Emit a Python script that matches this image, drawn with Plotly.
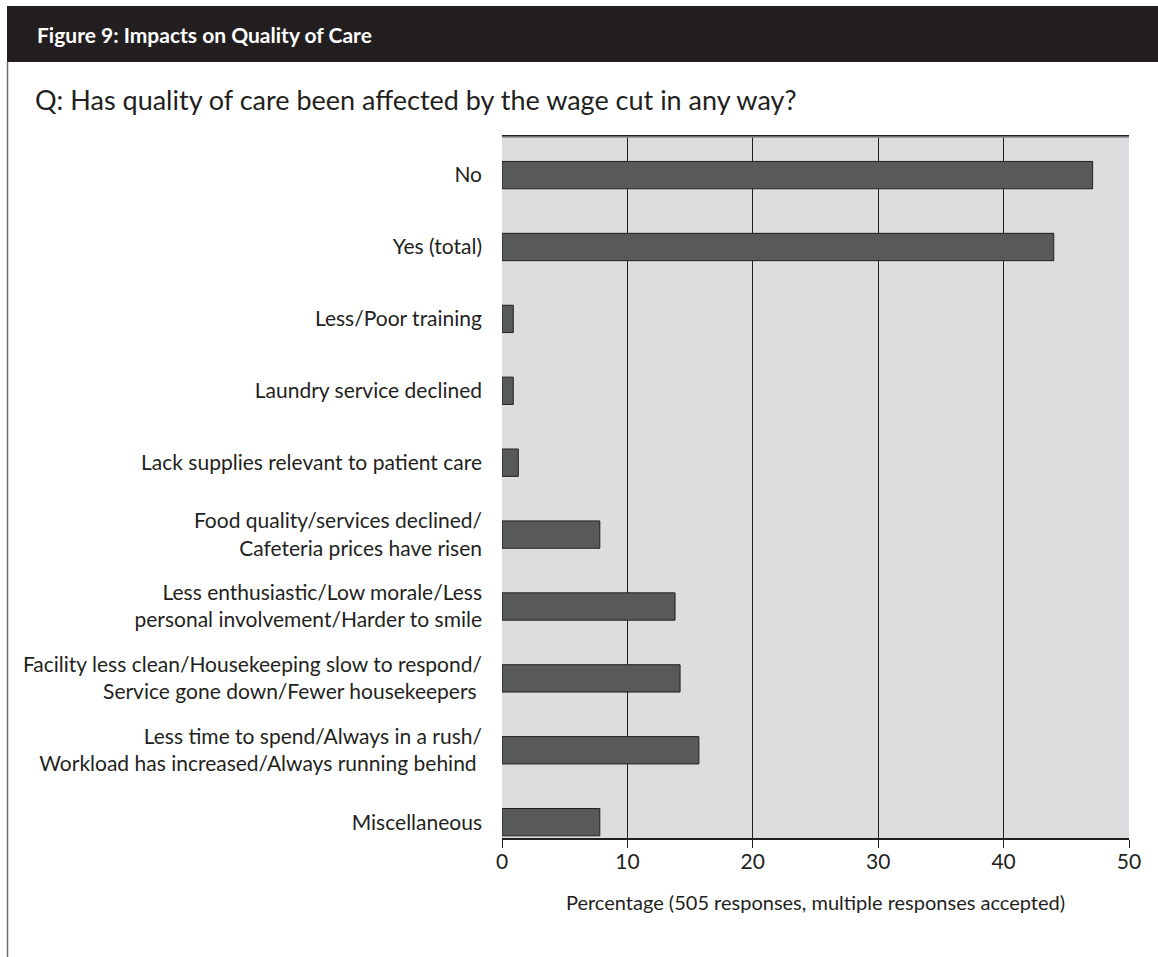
import plotly.graph_objects as go

categories = [
    "No",
    "Yes (total)",
    "Less/Poor training",
    "Laundry service declined",
    "Lack supplies relevant to patient care",
    "Food quality/services declined/<br>Cafeteria prices have risen",
    "Less enthusiastic/Low morale/Less<br>personal involvement/Harder to smile",
    "Facility less clean/Housekeeping slow to respond/<br>Service gone down/Fewer housekeepers\u00a0",
    "Less time to spend/Always in a rush/<br>Workload has increased/Always running behind\u00a0",
    "Miscellaneous",
]
values = [47.1, 44.0, 0.9, 0.9, 1.3, 7.8, 13.8, 14.2, 15.7, 7.8]
x_ticks = [0, 10, 20, 30, 40, 50]

W, H = 1158, 957
L, R, T, B = 502, 29, 137, 119
pw = W - L - R
ph = H - T - B

def px(x):
    return (x - L) / pw

def py(y):
    return 1 - (y - T) / ph

FONT = "Lato"
DARK = "#231f20"

fig = go.Figure(go.Bar(
    x=values, y=categories, orientation="h",
    marker=dict(color="#58595b", line=dict(color=DARK, width=1)),
    width=0.38,
))

fig.update_layout(
    width=W, height=H,
    margin=dict(l=L, r=R, t=T, b=B, pad=0),
    paper_bgcolor="white",
    plot_bgcolor="#dcdddf",
    showlegend=False,
    font=dict(family=FONT, color=DARK, size=20),
    xaxis=dict(
        range=[0, 50], tickvals=x_ticks, ticks="outside", ticklen=8,
        tickcolor=DARK, tickwidth=1, showgrid=True, gridcolor=DARK, gridwidth=1,
        showline=True, linecolor=DARK, linewidth=1.5, mirror=True,
        zeroline=False, tickfont=dict(size=21, family=FONT, color=DARK),
        ticklabelstandoff=-4,
        title=dict(text="Percentage (505 responses, multiple responses accepted)",
                   font=dict(size=20, family=FONT, color=DARK), standoff=24),
        fixedrange=True,
    ),
    yaxis=dict(
        type="category", range=[9.22, -0.53], showgrid=False,
        ticks="", ticklabelstandoff=19, showline=False,
        tickfont=dict(size=21, family=FONT, color=DARK),
        fixedrange=True,
    ),
    shapes=[
        # header bar
        dict(type="rect", xref="paper", yref="paper",
             x0=px(7), x1=px(1158), y0=py(62), y1=py(6),
             fillcolor=DARK, line=dict(width=0), layer="above"),
        # left frame line
        dict(type="line", xref="paper", yref="paper",
             x0=px(7.5), x1=px(7.5), y0=py(62), y1=py(957),
             line=dict(color="#6d6e70", width=1.5)),
        # top plot border lighter
        dict(type="line", xref="paper", yref="paper",
             x0=0, x1=1, y0=1, y1=1,
             line=dict(color="#8a8b8d", width=1.5), layer="above"),
    ],
    annotations=[
        dict(text="<b>Figure 9: Impacts on Quality of Care</b>", xref="paper", yref="paper",
             x=px(35), y=py(34), xanchor="left", yanchor="middle", showarrow=False,
             font=dict(size=21, color="white", family=FONT)),
        dict(text="Q: Has quality of care been affected by the wage cut in any way?",
             xref="paper", yref="paper", x=px(33), y=py(99), xanchor="left",
             yanchor="middle", showarrow=False,
             font=dict(size=27, color=DARK, family=FONT)),
    ],
)

fig.write_html("out.html")
